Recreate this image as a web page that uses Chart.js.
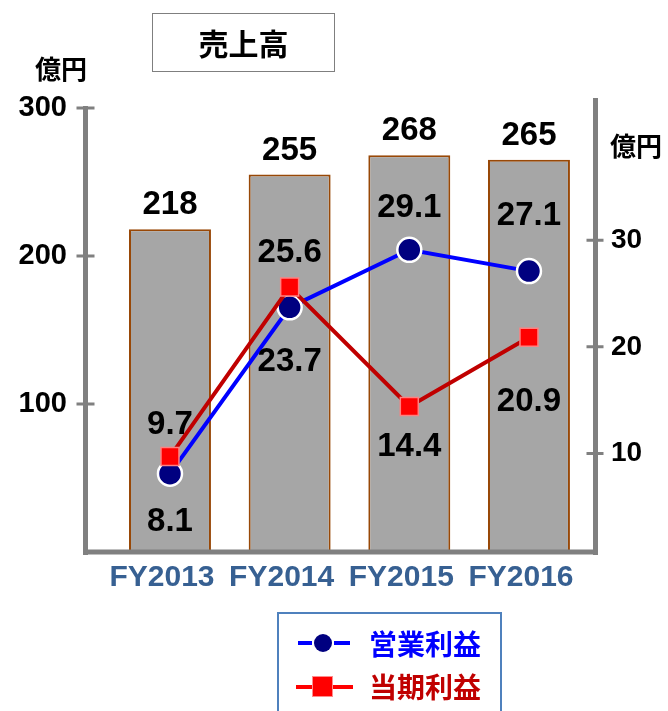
<!DOCTYPE html>
<html><head><meta charset="utf-8">
<script src="https://cdn.jsdelivr.net/npm/chart.js@4"></script>
<style>
html,body{margin:0;padding:0;background:#fff;}
#wrap{position:relative;width:668px;height:711px;overflow:hidden;background:#fff;}
#c{position:absolute;left:0;top:0;}
.t{position:absolute;font-family:"Noto Sans CJK JP","Noto Sans",sans-serif;font-weight:700;white-space:nowrap;}
#title{left:152px;top:13px;width:183px;height:59px;border:1px solid #7f7f7f;box-sizing:border-box;font-size:30px;line-height:57px;text-align:center;color:#000;}
#unitL{left:35px;top:48px;font-size:26px;line-height:40px;color:#000;}
#unitR{left:610px;top:125px;font-size:26px;line-height:40px;color:#000;}
#legend{position:absolute;left:277px;top:612px;width:225px;height:130px;border:2px solid #4F81BD;box-sizing:border-box;}
.sym{position:absolute;}
.lg{font-size:28px;line-height:40px;}
</style>
</head>
<body>
<div id="wrap">
  <canvas id="c" width="668" height="711"></canvas>
  <div class="t" id="title"></div>
  <div class="t" id="unitL">億円</div>
  <div class="t" id="unitR">億円</div>
  <div id="legend"></div>
  <div class="sym" style="left:298px;top:641px;width:14px;height:4px;background:#0000FF"></div>
  <div class="sym" style="left:314px;top:634px;width:18px;height:18px;border-radius:50%;background:#000080"></div>
  <div class="sym" style="left:334px;top:641px;width:16px;height:4px;background:#0000FF"></div>
  <div class="t lg" id="lg1" style="left:369px;top:623px;color:#0000FF"></div>
  <div class="sym" style="left:296px;top:685px;width:57px;height:4px;background:#FF0000"></div>
  <div class="sym" style="left:312px;top:676px;width:21px;height:21px;background:#FF0000;border:1px solid #FF8C8C;box-sizing:border-box"></div>
  <div class="t lg" id="lg2" style="left:369px;top:666px;color:#C00000"></div>
</div>
<script>
const categories = ['FY2013', 'FY2014', 'FY2015', 'FY2016'];
const sales = [218, 255, 268, 265];
const operatingProfit = [8.1, 23.7, 29.1, 27.1];
const netProfit = [9.7, 25.6, 14.4, 20.9];
const salesTicks = [100, 200, 300];
const profitTicks = [10, 20, 30];
const seriesNames = ['売上高', '営業利益', '当期利益'];

document.getElementById('title').textContent = seriesNames[0];
document.getElementById('lg1').textContent = seriesNames[1];
document.getElementById('lg2').textContent = seriesNames[2];

const NUM_FONT = '"Liberation Sans", Arial, sans-serif';
const toPoints = arr => arr.map((v, i) => ({ x: i, y: v }));

const axisFrame = {
  id: 'axisFrame',
  afterDatasetsDraw(chart) {
    const { ctx, chartArea: { left, right, top, bottom }, scales } = chart;
    ctx.save();
    ctx.strokeStyle = '#808080';
    ctx.lineWidth = 5;
    ctx.beginPath();
    ctx.moveTo(left, top - 2); ctx.lineTo(left, bottom + 3);
    ctx.moveTo(left - 2.5, bottom); ctx.lineTo(right + 2.5, bottom);
    ctx.moveTo(right, top - 10); ctx.lineTo(right, bottom + 3);
    ctx.stroke();
    ctx.lineWidth = 3;
    ctx.beginPath();
    scales.y.ticks.forEach(t => { const p = scales.y.getPixelForValue(t.value); ctx.moveTo(left - 9, p); ctx.lineTo(left + 9, p); });
    scales.y1.ticks.forEach(t => { const p = scales.y1.getPixelForValue(t.value); ctx.moveTo(right - 9, p); ctx.lineTo(right + 8, p); });
    ctx.stroke();
    ctx.restore();
  }
};

const valueLabels = {
  id: 'valueLabels',
  afterDatasetsDraw(chart) {
    const ctx = chart.ctx;
    ctx.save();
    ctx.font = 'bold 33px ' + NUM_FONT;
    ctx.fillStyle = '#000';
    ctx.textAlign = 'center';
    ctx.textBaseline = 'middle';
    chart.data.datasets.forEach((ds, di) => {
      const meta = chart.getDatasetMeta(di);
      meta.data.forEach((el, i) => {
        ctx.fillText(String(ds.data[i].y), el.x, el.y + ds.labelOffsets[i]);
      });
    });
    ctx.restore();
  }
};

new Chart(document.getElementById('c'), {
  type: 'bar',
  data: {
    datasets: [
      {
        type: 'line',
        label: seriesNames[2],
        data: toPoints(netProfit),
        yAxisID: 'y1',
        borderColor: '#C00000',
        borderWidth: 4,
        pointStyle: 'rect',
        pointRadius: 12.7,
        pointBackgroundColor: '#FF0000',
        pointBorderColor: '#FF8080',
        pointBorderWidth: 1.5,
        tension: 0,
        order: 1,
        labelOffsets: [-32, -34, 40, 65]
      },
      {
        type: 'line',
        label: seriesNames[1],
        data: toPoints(operatingProfit),
        yAxisID: 'y1',
        borderColor: '#0000FF',
        borderWidth: 4,
        pointStyle: 'circle',
        pointRadius: 12,
        pointBackgroundColor: '#000080',
        pointBorderColor: '#FFFFFF',
        pointBorderWidth: 2.5,
        tension: 0,
        order: 2,
        labelOffsets: [48, 55, -42, -55]
      },
      {
        type: 'bar',
        label: seriesNames[0],
        data: toPoints(sales),
        yAxisID: 'y',
        backgroundColor: '#A6A6A6',
        borderColor: '#984807',
        borderWidth: 2,
        borderSkipped: false,
        barPercentage: 0.685,
        categoryPercentage: 1,
        order: 3,
        labelOffsets: [-24, -24, -24, -24]
      }
    ]
  },
  options: {
    responsive: false,
    animation: false,
    layout: { padding: { top: 108, bottom: 109, left: 0, right: 0 } },
    plugins: { legend: { display: false }, tooltip: { enabled: false }, title: { display: false } },
    scales: {
      x: {
        type: 'linear',
        offset: false,
        min: -0.706,
        max: 3.556,
        afterBuildTicks: s => { s.ticks = categories.map((c, i) => ({ value: i })); },
        afterFit: s => { s.height = 50; },
        grid: { display: false, drawTicks: false, offset: false },
        border: { display: false },
        ticks: {
          callback: v => categories[v],
          font: { family: NUM_FONT, size: 30, weight: 'bold' },
          color: '#376092',
          padding: 8,
          labelOffset: -8,
          maxRotation: 0,
          autoSkip: false
        }
      },
      y: {
        position: 'left',
        min: 0,
        max: 300,
        afterBuildTicks: s => { s.ticks = salesTicks.map(v => ({ value: v })); },
        afterFit: s => { s.width = 85.5; },
        grid: { display: false, drawTicks: false },
        border: { display: false },
        ticks: { font: { family: NUM_FONT, size: 29, weight: 'bold' }, color: '#000', padding: 18.5 }
      },
      y1: {
        position: 'right',
        min: 0.75,
        max: 42.4,
        afterBuildTicks: s => { s.ticks = profitTicks.map(v => ({ value: v })); },
        afterFit: s => { s.width = 72.5; },
        grid: { display: false, drawTicks: false },
        border: { display: false },
        ticks: { font: { family: NUM_FONT, size: 28, weight: 'bold' }, color: '#000', padding: 15.5 }
      }
    }
  },
  plugins: [axisFrame, valueLabels]
});
</script>
</body></html>
